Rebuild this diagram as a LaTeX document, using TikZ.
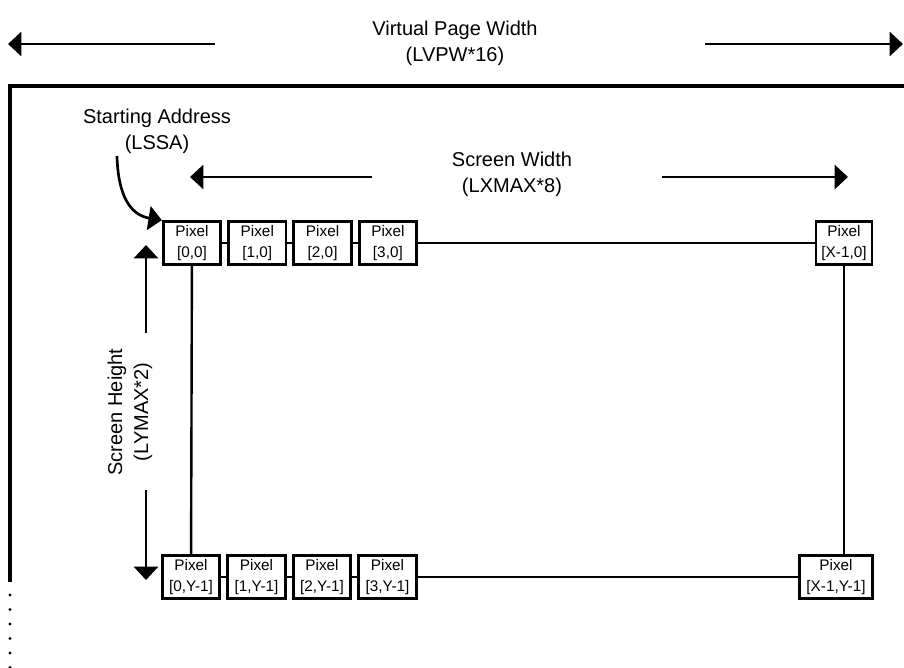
\documentclass[tikz,border=0pt]{standalone}
\usepackage{fontspec}
\setmainfont{Liberation Sans}
\usetikzlibrary{arrows.meta,positioning}
\tikzset{
  ar/.style={-{Triangle[length=10pt,width=18pt]},line width=2pt},
  pix/.style={draw,line width=2.2pt,align=center,inner sep=1pt,minimum width=43pt,minimum height=32pt,font=\fontsize{11.5}{15.5}\selectfont},
  lbl/.style={align=center,font=\fontsize{15}{19.5}\selectfont},
  wire/.style={line width=1.8pt}
}
\begin{document}
\begin{tikzpicture}[x=0.75pt,y=-0.75pt]
\useasboundingbox (0,0) rectangle (904,668);
% page border, open at right and bottom
\draw[line width=2.4pt] (10,582) -- (10,86) -- (904,86);
\foreach \y in {595,609.5,...,668} \fill (10,\y) circle (1.3pt);
% virtual page width
\node[lbl] (vpw) at (455,43) {Virtual Page Width\\(LVPW*16)};
\coordinate (vpwa) at (215,44); \coordinate (vpwl) at (8,44);
\coordinate (vpwb) at (705,44); \coordinate (vpwr) at (903,44);
\draw[ar] (vpwa) -- (vpwl);
\draw[ar] (vpwb) -- (vpwr);
% screen width
\node[lbl] (sw) at (512,174) {Screen Width\\(LXMAX*8)};
\coordinate (swa) at (372,177); \coordinate (swl) at (190,177);
\coordinate (swb) at (662,177); \coordinate (swr) at (848,177);
\draw[ar] (swa) -- (swl);
\draw[ar] (swb) -- (swr);
% screen height
\node[lbl,rotate=90] (sh) at (130,412) {Screen Height\\(LYMAX*2)};
\coordinate (sha) at (146,333); \coordinate (sht) at (146,245);
\coordinate (shb) at (146,490); \coordinate (shd) at (146,580);
\draw[ar] (sha) -- (sht);
\draw[ar] (shb) -- (shd);
% pixels
\foreach \i in {0,...,3}{
  \node[pix] (t\i) at (192+65.3*\i,243) {Pixel\\{[\i,0]}};
  \node[pix] (b\i) at (191+65.5*\i,577) {Pixel\\{[\i,Y-1]}};
}
\node[pix,minimum width=42pt] (tx) at (844,243) {Pixel\\{[X-1,0]}};
\node[pix,minimum width=55pt] (bx) at (836,577) {Pixel\\{[X-1,Y-1]}};
\foreach \i/\j in {0/1,1/2,2/3}{
  \draw[wire] (t\i) -- (t\j);
  \draw[wire] (b\i) -- (b\j);
}
\draw[wire] (t3) -- (tx);
\draw[wire] (b3) -- (bx);
\draw[wire] (t0) -- (b0);
\draw[wire] (tx.south) -- (tx.south |- bx.north);
% starting address
\node[lbl] (sa) at (157,131) {Starting Address\\(LSSA)};
\coordinate (saa) at (117,156);
\draw[ar] (saa) .. controls (118,195) and (130,215) .. (t0.north west);
\end{tikzpicture}
\end{document}
